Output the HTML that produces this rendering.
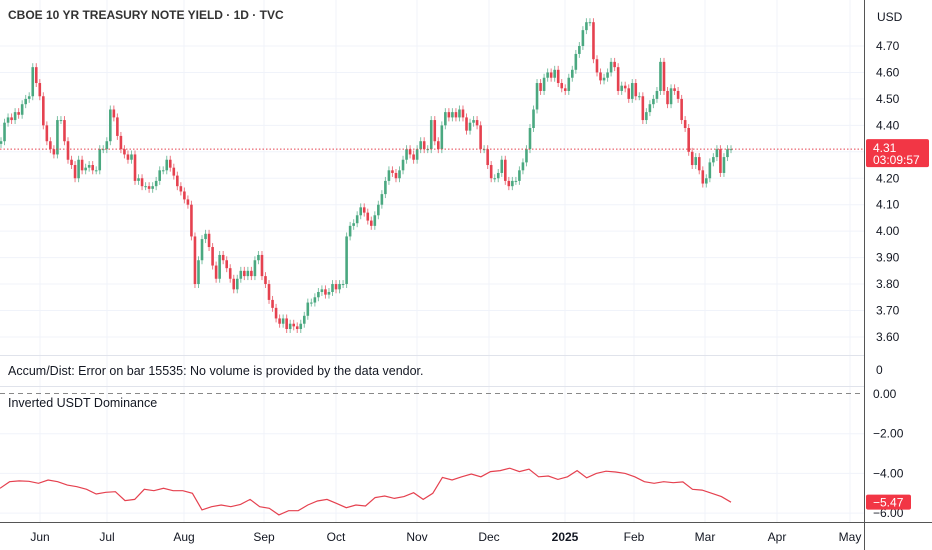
<!DOCTYPE html>
<html><head><meta charset="utf-8">
<style>
html,body{margin:0;padding:0;background:#fff;}
svg{display:block;font-family:"Liberation Sans",sans-serif;}
</style></head>
<body>
<svg id="chart" width="932" height="550" viewBox="0 0 932 550">
<g id="grid"></g>
<g id="candles"></g>
<g id="usdt"></g>
<g id="axes"></g>
<text x="8" y="19" font-size="12" font-weight="bold" fill="#333">CBOE 10 YR TREASURY NOTE YIELD · 1D · TVC</text>
<text x="8" y="375" font-size="12.5" fill="#131722">Accum/Dist: Error on bar 15535: No volume is provided by the data vendor.</text>
<text x="8" y="407" font-size="12.5" fill="#131722">Inverted USDT Dominance</text>
<text x="877" y="21" font-size="12" fill="#131722">USD</text>
</svg>
<script>
const priceTicks = [4.70,4.60,4.50,4.40,4.30,4.20,4.10,4.00,3.90,3.80,3.70,3.60];
const usdtTicks = [0,-2,-4,-6];
const monthLabels = ["Jun","Jul","Aug","Sep","Oct","Nov","Dec","2025","Feb","Mar","Apr","May"];
const monthPos = [40,107,184,264,336,417,489,565,634,705,777,850];
const firstOpen = 4.33;
const closes = [4.34,4.41,4.43,4.42,4.45,4.44,4.48,4.50,4.51,4.62,4.56,4.51,4.40,4.34,4.31,4.29,4.42,4.42,4.34,4.27,4.25,4.20,4.27,4.23,4.24,4.25,4.23,4.23,4.31,4.31,4.34,4.46,4.43,4.36,4.31,4.29,4.27,4.29,4.19,4.20,4.17,4.17,4.16,4.17,4.19,4.23,4.23,4.27,4.24,4.21,4.17,4.15,4.12,4.10,3.98,3.80,3.89,3.97,3.99,3.94,3.87,3.82,3.91,3.89,3.86,3.82,3.78,3.82,3.85,3.83,3.85,3.83,3.89,3.91,3.83,3.80,3.74,3.71,3.67,3.65,3.67,3.63,3.65,3.64,3.63,
3.65,3.68,3.73,3.73,3.75,3.77,3.78,3.76,3.77,3.80,3.78,3.80,3.80,3.98,4.02,4.03,4.06,4.09,4.07,4.04,4.02,4.06,4.10,4.14,4.19,4.23,4.22,4.20,4.23,4.27,4.31,4.29,4.27,4.31,4.34,4.31,4.31,4.42,4.34,4.31,4.40,4.45,4.43,4.45,4.43,4.46,4.43,4.38,4.41,4.42,4.40,4.31,4.31,4.25,4.20,4.20,4.22,4.27,4.19,4.17,4.19,4.19,4.23,4.26,4.31,
4.39,4.46,4.56,4.53,4.58,4.60,4.58,4.61,4.56,4.54,4.53,4.58,4.61,4.67,4.70,4.76,4.79,4.79,4.65,4.60,4.57,4.58,4.60,4.64,4.62,4.53,4.55,4.54,4.50,4.56,4.51,4.51,4.42,4.45,4.48,4.50,4.53,4.64,4.53,4.48,4.54,4.53,4.50,4.42,4.39,4.30,4.25,4.28,4.23,4.18,4.20,4.26,4.28,4.31,4.22,4.28,4.31,4.31];
const usdtValues = [-4.75,-4.42,-4.38,-4.40,-4.50,-4.33,-4.42,-4.59,-4.67,-4.80,-5.04,-4.95,-4.92,-5.37,-5.31,-4.80,-4.87,-4.75,-4.87,-4.87,-5.00,-5.84,-5.68,-5.59,-5.68,-5.56,-5.31,-5.68,-5.76,-6.09,-5.88,-5.88,-5.59,-5.39,-5.31,-5.51,-5.73,-5.59,-5.64,-5.22,-5.14,-5.26,-5.17,-4.97,-5.31,-5.00,-4.20,-4.33,-4.17,-4.03,-4.17,-3.91,-3.86,-3.74,-3.91,-3.79,-4.17,-4.13,-4.30,-4.17,-3.86,-4.22,-4.00,-3.89,-3.93,-4.00,-4.17,-4.42,-4.50,-4.42,-4.47,-4.43,-4.80,-4.84,-5.00,-5.17,-5.45];
const lastPrice = 4.31;
const lastUsdt = -5.47;

const NS="http://www.w3.org/2000/svg";
function mk(tag,attrs,parent){const e=document.createElementNS(NS,tag);for(const k in attrs)e.setAttribute(k,attrs[k]);parent.appendChild(e);return e;}
const yP = p => 46 + (4.70 - p) * 264.5;
const yU = v => 394 - v * 19.85;
const xC = i => 1 + i * (730 / (closes.length - 1));
const xU = i => 0 + i * (731 / (usdtValues.length - 1));
const grid=document.getElementById('grid'), cg=document.getElementById('candles'), ug=document.getElementById('usdt'), ax=document.getElementById('axes');

monthPos.forEach((x,i)=>{
  const l=mk('line',{x1:x,y1:0,x2:x,y2:522,stroke:'#f0f3fa','stroke-width':1},grid);
  
  
  const t=mk('text',{x:x,y:541,'font-size':12,fill:'#131722','text-anchor':'middle','font-weight':monthLabels[i]==='2025'?'bold':'normal'},ax);
  t.textContent=monthLabels[i];
  
  
});
priceTicks.forEach(p=>{
  const y=yP(p);
  const l=mk('line',{x1:0,y1:y,x2:864,y2:y,stroke:'#f0f3fa','stroke-width':1},grid);
  
  
  const t=mk('text',{x:876,y:y+4,'font-size':12,fill:'#131722'},ax);
  t.textContent=p.toFixed(2);
  
  
});
usdtTicks.forEach(v=>{
  const y=yU(v);
  if(v!==0){const l=mk('line',{x1:0,y1:y,x2:864,y2:y,stroke:'#f0f3fa','stroke-width':1},grid);
  
  }
  const t=mk('text',{x:873,y:y+4,'font-size':12,fill:'#131722'},ax);
  t.textContent=(v<0?'\u2212'+Math.abs(v).toFixed(2):v.toFixed(2));
  
  
});
// zero label for accum/dist
const z=mk('text',{x:876,y:374,'font-size':12,fill:'#131722'},ax);
z.textContent='0';



// candles
let prev=firstOpen;
closes.forEach((c,i)=>{
  const o=prev; prev=c;
  const hi=Math.max(o,c)+0.015, lo=Math.min(o,c)-0.015;
  const up=c>=o, col=up?'#4aa880':'#e5414f';
  const x=xC(i);
  const g=mk('g',{},cg);
  
  
  mk('line',{x1:x,y1:yP(hi),x2:x,y2:yP(lo),stroke:col,'stroke-width':1,opacity:0.7},g);
  const yt=yP(Math.max(o,c)), yb=yP(Math.min(o,c));
  mk('rect',{x:x-1.3,y:yt,width:2.6,height:Math.max(1,yb-yt),fill:col},g);
});
// last price line
const lp=mk('line',{x1:0,y1:yP(lastPrice),x2:864,y2:yP(lastPrice),stroke:'#e5414f','stroke-width':1,'stroke-dasharray':'1.5 2'},cg);



// usdt line
let d='';
usdtValues.forEach((v,i)=>{d+=(i?'L':'M')+xU(i).toFixed(1)+' '+yU(v).toFixed(1);});
const pl=mk('path',{d:d,fill:'none',stroke:'#e5414f','stroke-width':1.2},ug);



// separators & axes
[[0,355.5,864,355.5,'#e0e3eb','none','main-pane-separator'],[0,386.5,864,386.5,'#e0e3eb','none','accum-pane-separator'],[0,393.5,864,393.5,'#888','5 4','usdt-zero-line'],[0,522.5,932,522.5,'#555','none','time-axis-line'],[864.5,0,864.5,550,'#555','none','price-axis-line']].forEach(a=>{
  const l=mk('line',{x1:a[0],y1:a[1],x2:a[2],y2:a[3],stroke:a[4],'stroke-width':1,'stroke-dasharray':a[5]},ax);
  
  
});
// badges
const b1=mk('g',{},ax);


mk('rect',{x:866,y:yP(lastPrice)-10,width:63,height:28,rx:2,fill:'#f23645'},b1);
const t1=mk('text',{x:873,y:yP(lastPrice)+3,'font-size':12,fill:'#fff'},b1);t1.textContent=lastPrice.toFixed(2);
const t2=mk('text',{x:873,y:yP(lastPrice)+15,'font-size':12,fill:'#fff'},b1);t2.textContent='03:09:57';
const b2=mk('g',{},ax);


mk('rect',{x:866,y:yU(lastUsdt)-8,width:45,height:15,rx:2,fill:'#f23645'},b2);
const t3=mk('text',{x:873,y:yU(lastUsdt)+4,'font-size':12,fill:'#fff'},b2);t3.textContent='\u2212'+Math.abs(lastUsdt).toFixed(2);
</script>
</body></html>
